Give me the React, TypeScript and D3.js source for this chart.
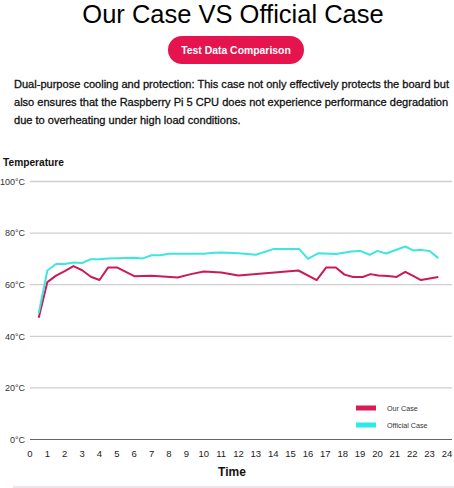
import React from 'react';
import * as d3 from 'd3';

const WIDTH = 454;
const HEIGHT = 488;

// readings: hours on test vs CPU temperature
const ourTime = [0.5, 1, 1.5, 2, 2.5, 3, 3.5, 4, 4.5, 5, 6, 7, 8.5, 9.2, 10, 11, 12, 15.45, 16.5, 17.05, 17.6, 18.1, 18.6, 19.15, 19.6, 20.05, 20.6, 21.1, 21.6, 22.05, 22.5, 23.5];
const ourTemp = [47.2, 61, 63.5, 65.3, 67.2, 65.6, 63.1, 61.8, 66.7, 66.7, 63.3, 63.5, 62.8, 64, 65.1, 64.7, 63.6, 65.5, 61.8, 66.7, 66.7, 63.9, 63, 63, 64.1, 63.6, 63.4, 63, 65, 63.4, 61.8, 63];

const officialTime = [0.5, 1, 1.5, 2, 2.5, 3, 3.5, 4, 4.5, 6, 6.5, 7, 7.5, 8, 10, 10.6, 11, 12, 13, 14, 15.5, 16, 16.6, 17.6, 18.5, 19, 19.55, 20, 20.5, 21.6, 22.05, 22.5, 23, 23.5];
const officialTemp = [49, 65.5, 68, 68, 68.6, 68.4, 69.9, 69.9, 70.2, 70.4, 70.2, 71.4, 71.4, 72, 72, 72.4, 72.5, 72.2, 71.6, 73.8, 73.8, 70, 72.2, 71.9, 72.9, 73.1, 71.6, 73.1, 72.1, 74.8, 73.3, 73.5, 73.1, 70.3];

const yTicks = [0, 20, 40, 60, 80, 100];
const xTicks = d3.range(0, 25);

const series = [
  { name: 'Our Case', time: ourTime, temp: ourTemp, color: '#cc1a58', swatch: '#d81b55' },
  { name: 'Official Case', time: officialTime, temp: officialTemp, color: '#3ee6e0', swatch: '#2ee8ea' },
];

const paragraph = [
  'Dual-purpose cooling and protection: This case not only effectively protects the board but',
  'also ensures that the Raspberry Pi 5 CPU does not experience performance degradation',
  'due to overheating under high load conditions.',
];

const FONT = '"Liberation Sans", Arial, sans-serif';

const App: React.FC = () => {
  const x = d3.scaleLinear().domain([0, 24]).range([30, 447]);
  const y = d3.scaleLinear().domain([0, 100]).range([439.5, 181.5]);

  const line = d3
    .line<[number, number]>()
    .x((d) => x(d[0]))
    .y((d) => y(d[1]));

  return (
    <svg
      width={WIDTH}
      height={HEIGHT}
      style={{ position: 'fixed', left: 0, top: 0, background: '#fff' }}
      fontFamily={FONT}
    >
      <text x={233} y={23} textAnchor="middle" fontSize={25.5} fill="#000">
        Our Case VS Official Case
      </text>

      <rect x={168} y={36} width={136} height={28} rx={14} fill="#e6144e" />
      <text x={236} y={54} textAnchor="middle" fontSize={10.4} fontWeight="bold" fill="#fff">
        Test Data Comparison
      </text>

      {paragraph.map((t, i) => (
        <text key={i} x={14} y={88 + i * 18} fontSize={11.05} fill="#111" stroke="#111" strokeWidth={0.3}>
          {t}
        </text>
      ))}

      <text x={3} y={166} fontSize={10.2} fontWeight="bold" fill="#111">
        Temperature
      </text>

      {/* horizontal grid + y labels */}
      {yTicks.map((v) => (
        <g key={v}>
          <line
            x1={30}
            x2={452}
            y1={y(v)}
            y2={y(v)}
            stroke={v === 0 ? '#666' : '#cfcfcf'}
            strokeWidth={v === 0 ? 1.2 : 1.3}
          />
          <text x={25} y={y(v) + 3.2} textAnchor="end" fontSize={9} fill="#333">
            {`${v}°C`}
          </text>
        </g>
      ))}

      {xTicks.map((v) => (
        <text key={v} x={x(v)} y={457} textAnchor="middle" fontSize={9.5} fill="#222">
          {v}
        </text>
      ))}

      <text x={232} y={476} textAnchor="middle" fontSize={12} fontWeight="bold" fill="#111">
        Time
      </text>

      {series.map((s) => (
        <path
          key={s.name}
          d={line(s.time.map((t, i) => [t, s.temp[i]] as [number, number])) ?? ''}
          fill="none"
          stroke={s.color}
          strokeWidth={2}
          strokeLinejoin="round"
        />
      ))}

      {/* legend */}
      {series.map((s, i) => (
        <g key={s.name} transform={`translate(356,${408 + i * 17})`}>
          <rect x={0} y={-2.5} width={20} height={5} fill={s.swatch} />
          <text x={31} y={2.5} fontSize={7.2} fill="#333">
            {s.name}
          </text>
        </g>
      ))}

      <line x1={13} x2={454} y1={487} y2={487} stroke="#dccbd3" strokeWidth={1.2} />
    </svg>
  );
};

export default App;
